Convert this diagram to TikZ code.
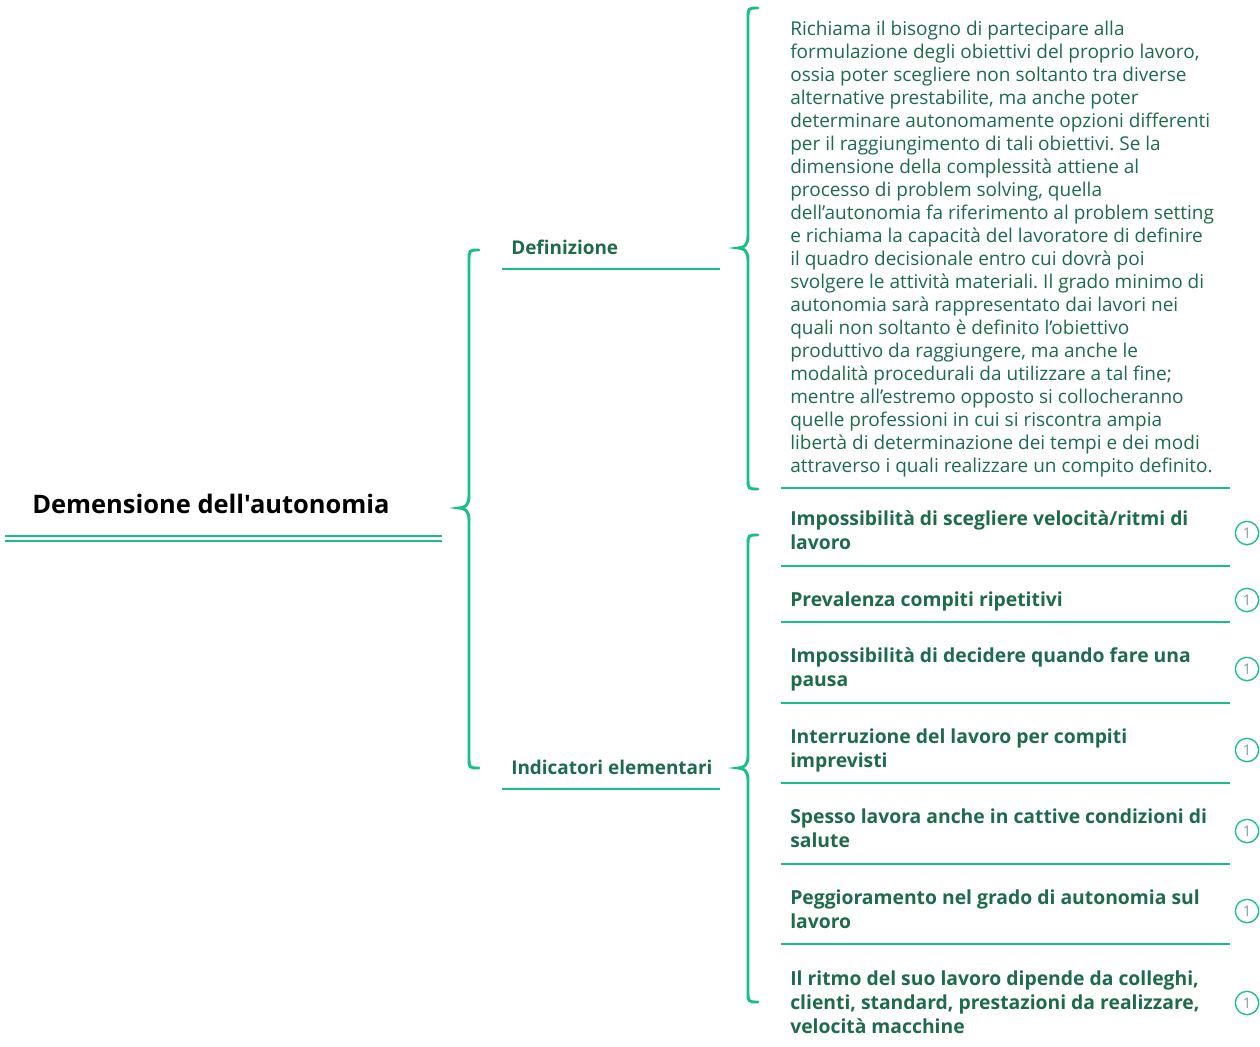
\documentclass[tikz,border=0pt]{standalone}
\usepackage{fontspec}
\setmainfont{Open Sans}[Ligatures={TeX,NoCommon}]
\newfontfamily\titlefont{Open Sans}[Ligatures=NoCommon]
\definecolor{lgreen}{HTML}{18C083}
\definecolor{tgreen}{HTML}{1D6B4C}
\definecolor{badgegray}{HTML}{8A9A92}
\newcommand\mybrace[4]{% xv, ytop, ymid, ybot
  \draw[bracestyle] (#1+10,#2) .. controls (#1,#2) .. (#1,#2+11) -- (#1,#3-12)
    .. controls (#1,#3-3) and (#1-4,#3) .. (#1-10,#3)
    .. controls (#1-4,#3) and (#1,#3+3) .. (#1,#3+12) -- (#1,#4-11)
    .. controls (#1,#4) .. (#1+10,#4);}
\begin{document}
\frenchspacing
\begin{tikzpicture}[x=0.75pt,y=-0.75pt,
  uline/.style={draw=lgreen, line width=2.2pt},
  bracestyle/.style={draw=lgreen, line width=2.2pt, line cap=round},
  titlestyle/.style={font=\titlefont\fontsize{19.1}{22}\selectfont\bfseries, text=black, anchor=base west, inner sep=0},
  lbl/.style={font=\fontsize{14.2}{17}\selectfont\bfseries, text=tgreen, anchor=base west, inner sep=0},
  item/.style={font=\fontsize{14.5}{18}\selectfont\bfseries, text=tgreen, align=left, anchor=base west, inner sep=0},
  body/.style={font=\fontsize{14.25}{17.25}\selectfont, text=tgreen, align=left, anchor=base west, inner sep=0},
  badge/.style={circle, draw=lgreen, line width=1pt, minimum size=17.5pt, inner sep=0, font=\fontsize{11}{11}\selectfont, text=badgegray}]
\useasboundingbox (0,0) rectangle (1260,1046);
\fill[white] (0,0) rectangle (1260,1046);

% root
\node[titlestyle] (root) at (32,513) {Demensione dell'autonomia};
\draw[uline] (5,536) -- (442,536);
\draw[uline] (5,541) -- (442,541);

% level 1
\mybrace{469}{250}{508}{768}
\node[lbl] (def) at (511,254) {Definizione};
\draw[uline] (502,269) -- (720,269);
\node[lbl] (ind) at (511,774) {Indicatori elementari};
\draw[uline] (502,789) -- (720,789);

% definition (base = last line baseline)
\mybrace{748}{8}{248}{489}
\node[body] (deftext) at (790,472) {Richiama il bisogno di partecipare alla\\
formulazione degli obiettivi del proprio lavoro,\\
ossia poter scegliere non soltanto tra diverse\\
alternative prestabilite, ma anche poter\\
determinare autonomamente opzioni differenti\\
per il raggiungimento di tali obiettivi. Se la\\
dimensione della complessità attiene al\\
processo di problem solving, quella\\
dell’autonomia fa riferimento al problem setting\\
e richiama la capacità del lavoratore di definire\\
il quadro decisionale entro cui dovrà poi\\
svolgere le attività materiali. Il grado minimo di\\
autonomia sarà rappresentato dai lavori nei\\
quali non soltanto è definito l’obiettivo\\
produttivo da raggiungere, ma anche le\\
modalità procedurali da utilizzare a tal fine;\\
mentre all’estremo opposto si collocheranno\\
quelle professioni in cui si riscontra ampia\\
libertà di determinazione dei tempi e dei modi\\
attraverso i quali realizzare un compito definito.};
\draw[uline] (781,488) -- (1230,488);

% indicators
\mybrace{748}{535}{768}{1002}
\node[item] (i1) at (790,549) {Impossibilità di scegliere velocità/ritmi di\\lavoro};
\draw[uline] (781,566) -- (1230,566);
\node[badge] (b1) at (1247,533) {1};
\node[item] (i2) at (790,606) {Prevalenza compiti ripetitivi};
\draw[uline] (781,622) -- (1230,622);
\node[badge] (b2) at (1247,600) {1};
\node[item] (i3) at (790,686) {Impossibilità di decidere quando fare una\\pausa};
\draw[uline] (781,703) -- (1230,703);
\node[badge] (b3) at (1247,669) {1};
\node[item] (i4) at (790,767) {Interruzione del lavoro per compiti\\imprevisti};
\draw[uline] (781,783) -- (1230,783);
\node[badge] (b4) at (1247,750) {1};
\node[item] (i5) at (790,847) {Spesso lavora anche in cattive condizioni di\\salute};
\draw[uline] (781,864) -- (1230,864);
\node[badge] (b5) at (1247,831) {1};
\node[item] (i6) at (790,928) {Peggioramento nel grado di autonomia sul\\lavoro};
\draw[uline] (781,944) -- (1230,944);
\node[badge] (b6) at (1247,911) {1};
\node[item] (i7) at (790,1033) {Il ritmo del suo lavoro dipende da colleghi,\\clienti, standard, prestazioni da realizzare,\\velocità macchine};
\node[badge] (b7) at (1247,1003) {1};
\end{tikzpicture}
\end{document}
